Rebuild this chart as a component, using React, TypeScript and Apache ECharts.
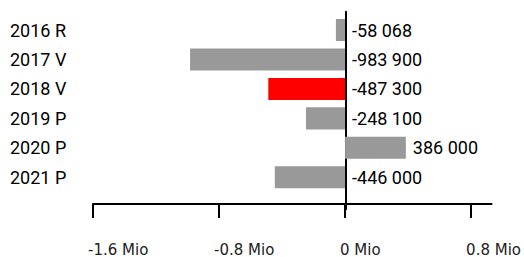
import React, { useEffect, useRef } from "react";
import * as echarts from "echarts";

const categories = ["2016 R", "2017 V", "2018 V", "2019 P", "2020 P", "2021 P"];
const values = [-58068, -983900, -487300, -248100, 386000, -446000];
const highlightCategory = "2018 V";
const xTickValues = [-1600000, -800000, 0, 800000];
const xMin = -1600000;
const xMax = 930000;

const NARROW = 'Roboto, "Liberation Sans", sans-serif';
const AXISFONT = '"DejaVu Sans", sans-serif';

function formatValue(n: number): string {
  const s = Math.abs(n).toString().replace(/\B(?=(\d{3})+(?!\d))/g, " ");
  return (n < 0 ? "-" : "") + s;
}

export default function App() {
  const ref = useRef<HTMLDivElement>(null);
  useEffect(() => {
    if (!ref.current) return;
    const chart = echarts.init(ref.current, undefined, { renderer: "svg" });
    chart.setOption({
      animation: false,
      backgroundColor: "#ffffff",
      grid: [
        { left: 93, width: 400, top: 15.3, height: 182, containLabel: false },
        { left: 93, width: 400, top: 11.7, height: 197.6, containLabel: false },
      ],
      xAxis: [
        {
          type: "value",
          gridIndex: 0,
          min: xMin,
          max: xMax,
          interval: 800000,
          offset: 12,
          position: "bottom",
          splitLine: { show: false },
          axisLine: { show: true, onZero: false, lineStyle: { color: "#000", width: 2 } },
          axisTick: {
            show: true,
            length: 14,
            inside: false,
            customValues: xTickValues,
            lineStyle: { color: "#000", width: 2 },
          },
          axisLabel: {
            show: true,
            customValues: xTickValues,
            formatter: (v: number) => `${v / 1000000} Mio`,
            align: "left",
            verticalAlign: "top",
            padding: [0, 0, 0, -5],
            margin: 38,
            fontFamily: AXISFONT,
            fontSize: 15,
            color: "#222",
          },
        },
        {
          type: "value",
          gridIndex: 1,
          min: xMin,
          max: xMax,
          interval: 800000,
          show: false,
        },
      ],
      yAxis: [
        {
          type: "category",
          gridIndex: 0,
          data: categories,
          inverse: true,
          position: "left",
          axisLine: { show: false, onZero: false },
          axisTick: { show: false },
          splitLine: { show: false },
          axisLabel: {
            align: "left",
            margin: 83,
            fontFamily: NARROW,
            fontSize: 18,
            color: "#000",
          },
        },
        {
          type: "value",
          gridIndex: 1,
          min: 0,
          max: 1,
          position: "left",
          axisLine: { show: true, onZero: true, lineStyle: { color: "#000", width: 2 } },
          axisTick: { show: false },
          axisLabel: { show: false },
          splitLine: { show: false },
        },
      ],
      series: [
        {
          type: "bar",
          xAxisIndex: 0,
          yAxisIndex: 0,
          barWidth: "75%",
          data: values.map((v, i) => ({
            value: v,
            itemStyle: { color: categories[i] === highlightCategory ? "#ff0000" : "#999999" },
          })),
          label: {
            show: true,
            position: "right",
            distance: 7,
            formatter: (p: any) => formatValue(p.value as number),
            fontFamily: NARROW,
            fontSize: 18,
            color: "#000",
          },
        },
      ],
    });
    return () => chart.dispose();
  }, []);
  return (
    <div
      ref={ref}
      style={{ position: "fixed", left: 0, top: 0, width: 524, height: 257 }}
    />
  );
}
